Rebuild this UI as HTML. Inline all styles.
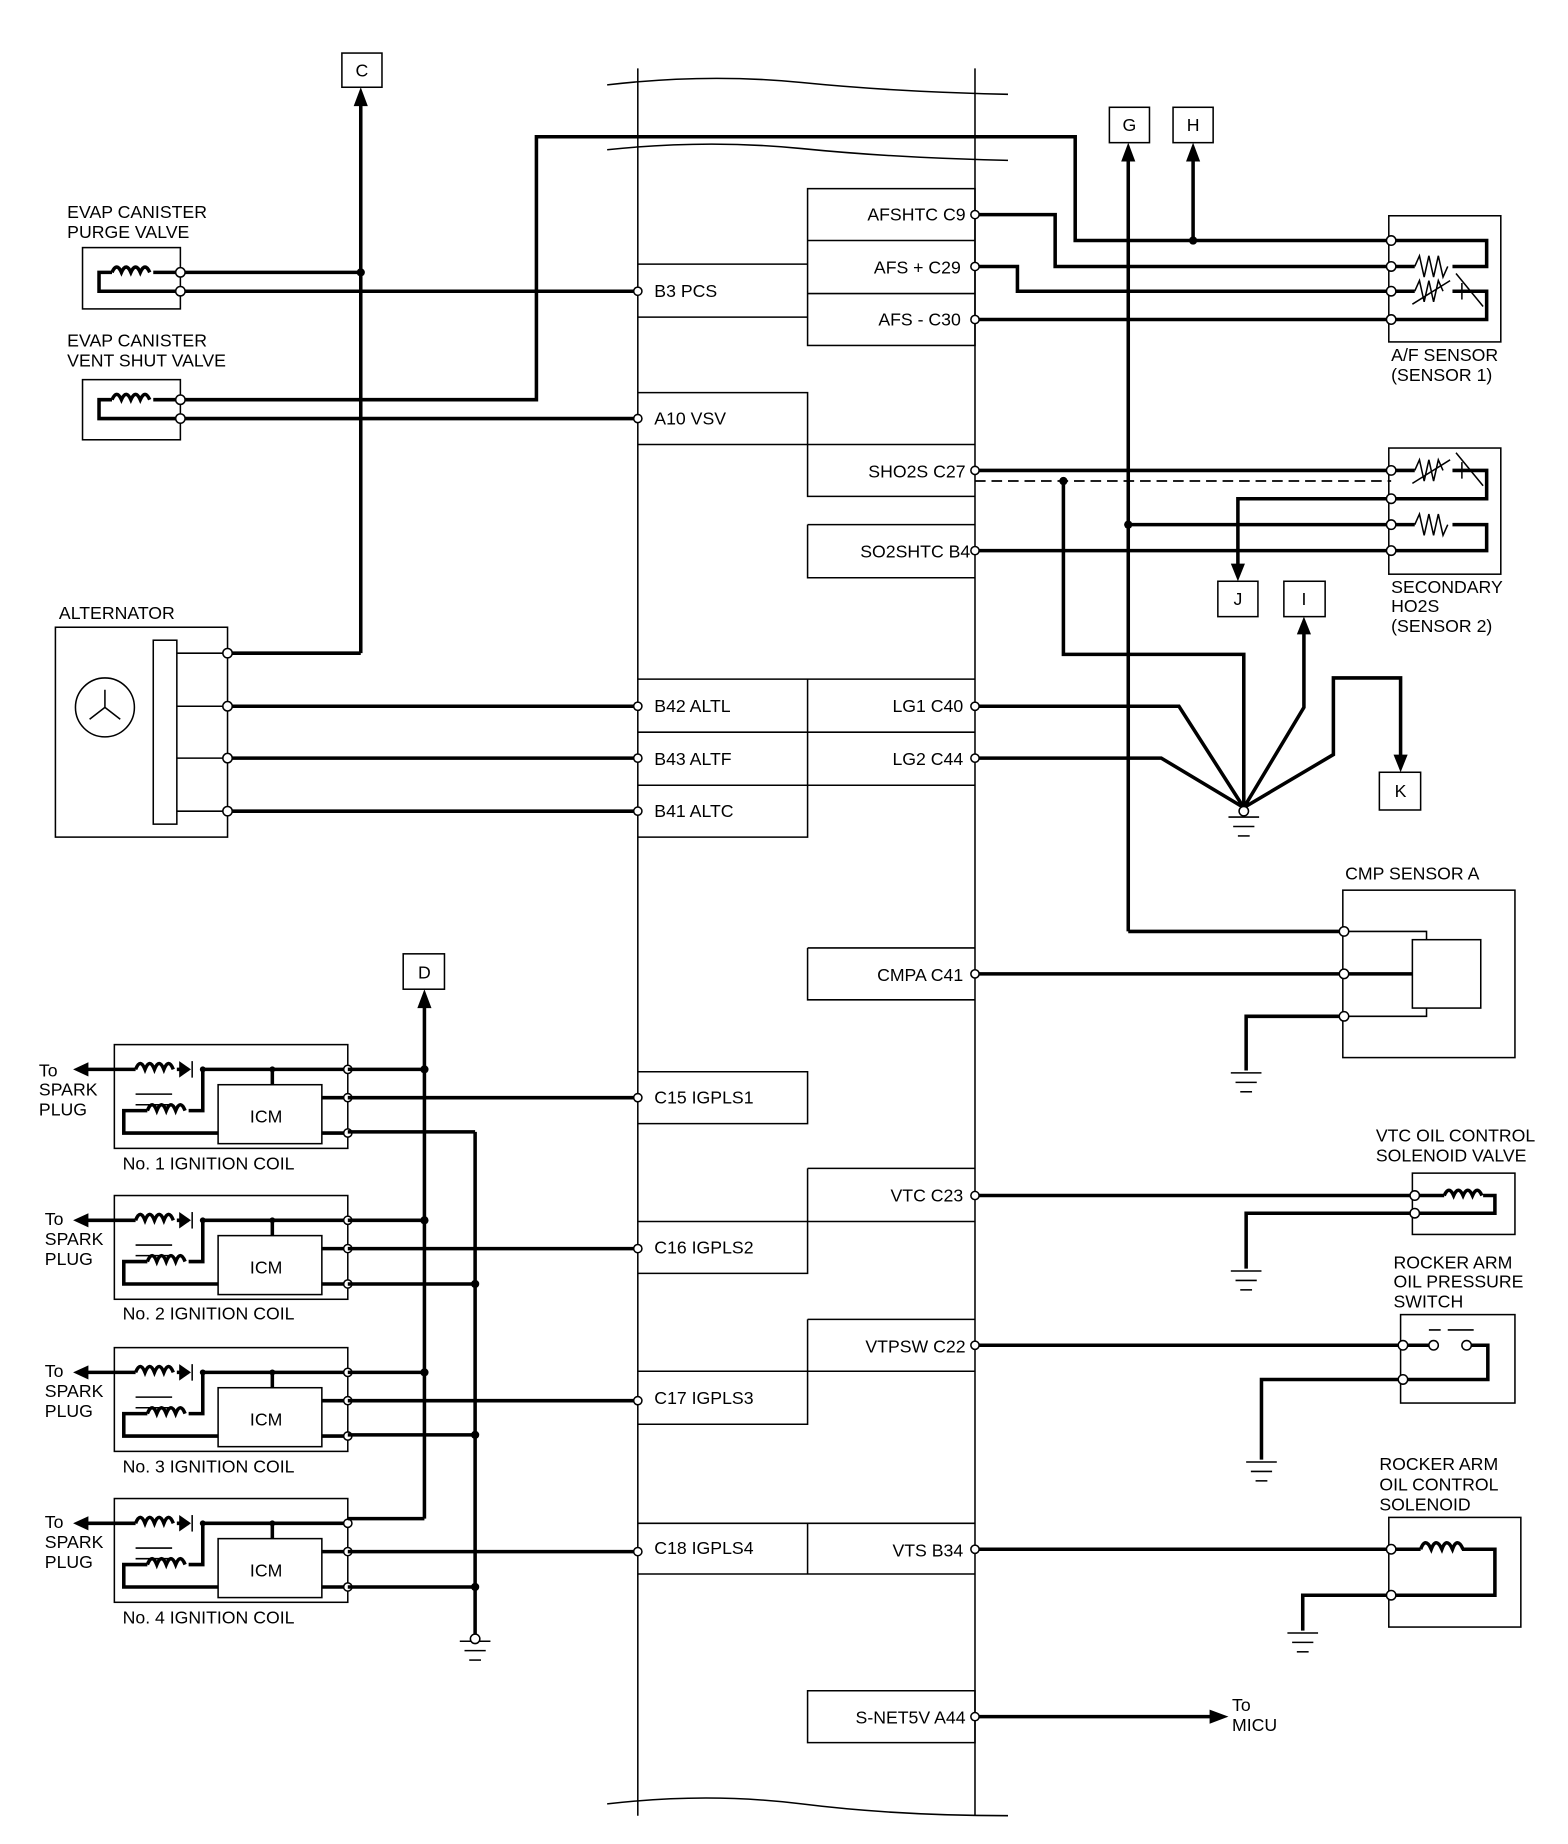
<!DOCTYPE html>
<html><head><meta charset="utf-8"><style>
html,body{margin:0;padding:0;background:#fff}
svg{display:block}
text{font-family:"Liberation Sans",Arial,sans-serif;font-size:15px;fill:#000}
.w{stroke:#000;stroke-width:3;fill:none}
.t{stroke:#000;stroke-width:1.3;fill:none}
.p{fill:#fff;stroke:#000;stroke-width:1.3}
.j{fill:#000}
</style></head><body>
<svg width="1568" height="1844" viewBox="0 0 1330 1564" preserveAspectRatio="none">
<defs>
<g id="gnd"><line x1="-13" y1="0" x2="13" y2="0" class="t" stroke-width="2"/><line x1="-9" y1="8" x2="9" y2="8" class="t"/><line x1="-5" y1="16" x2="5" y2="16" class="t"/></g>
<g id="coil">
<rect x="97" y="886" width="198" height="88" class="t" stroke-width="2"/>
<rect x="185" y="920" width="88" height="50" class="t" stroke-width="2"/>
<text x="212" y="952">ICM</text>
<path class="w" d="M295 907 H172 M160 907 H150 M115 907 H70"/>
<path class="w" d="M115 907 q4 -10 8 0 q4 -10 8 0 q4 -10 8 0 q4 -10 8 0"/>
<path d="M152 900 L162 907 L152 914Z" class="j"/><line x1="163" y1="900" x2="163" y2="914" class="t" stroke-width="2"/>
<path d="M62 907 L75 901 L75 913Z" class="j"/>
<path class="w" d="M172 907 V942 H160 M125 942 H105 V961 H185 M231 907 V920 M273 931 H295 M273 961 H295"/>
<path class="w" d="M125 942 q4 -10 8 0 q4 -10 8 0 q4 -10 8 0 q4 -10 8 0"/>
<line x1="115" y1="928" x2="146" y2="928" class="t" stroke-width="2"/><line x1="115" y1="937" x2="146" y2="937" class="t" stroke-width="2"/>
<circle cx="231" cy="907" r="2.5" class="j"/><circle cx="172" cy="907" r="2.5" class="j"/>
<circle cx="295" cy="907" r="3.5" class="p"/><circle cx="295" cy="931" r="3.5" class="p"/><circle cx="295" cy="961" r="3.5" class="p"/>
</g>
</defs>
<!-- ECM band -->
<path class="t" d="M541 58 V1540 M827 58 V1540"/>
<path class="t" d="M515 72 Q600 62 680 70 T855 80 M515 127 Q600 118 680 126 T855 136 M515 1530 Q600 1520 680 1530 T855 1540"/>
<!-- boxes -->
<g class="t">
<rect x="685" y="160" width="142" height="133"/><line x1="685" y1="204" x2="827" y2="204"/><line x1="685" y1="249" x2="827" y2="249"/>
<path d="M541 224 H685 M541 269 H685"/>
<path d="M541 333 H685 V377 H541 M685 377 H827 M685 377 V421 H827"/>
<path d="M685 445 H827 M685 445 V490 H827"/>
<path d="M541 576 H827 M541 621 H827 M541 666 H827 M685 576 V710 H541"/>
<path d="M685 804 H827 M685 804 V848 H827"/>
<path d="M541 909 H685 V953 H541"/>
<path d="M685 991 H827 M685 991 V1080 H541 M541 1036 H827"/>
<path d="M685 1119 H827 M685 1119 V1208 H541 M541 1163 H827"/>
<path d="M541 1292 H827 M685 1292 V1335 H541 M685 1335 H827"/>
<path d="M685 1434 H827 V1478 H685Z"/>
</g>
<g font-size="15">
<text x="555" y="252">B3 PCS</text><text x="555" y="360">A10 VSV</text>
<text x="555" y="604">B42 ALTL</text><text x="555" y="649">B43 ALTF</text><text x="555" y="693">B41 ALTC</text>
<text x="555" y="936">C15 IGPLS1</text><text x="555" y="1063">C16 IGPLS2</text><text x="555" y="1191">C17 IGPLS3</text><text x="555" y="1318">C18 IGPLS4</text>
</g>
<g text-anchor="end">
<text x="819" y="187">AFSHTC C9</text><text x="815" y="232">AFS +  C29</text><text x="815" y="276">AFS -  C30</text>
<text x="819" y="405">SHO2S C27</text><text x="823" y="473">SO2SHTC B4</text>
<text x="817" y="604">LG1 C40</text><text x="817" y="649">LG2 C44</text><text x="817" y="832">CMPA C41</text>
<text x="817" y="1019">VTC C23</text><text x="819" y="1147">VTPSW C22</text><text x="817" y="1320">VTS B34</text><text x="819" y="1462">S-NET5V A44</text>
</g>
<!-- label boxes -->
<g class="t" stroke-width="1.6">
<rect x="290" y="45" width="34" height="29"/><rect x="941" y="91" width="34" height="30"/><rect x="995" y="91" width="34" height="30"/>
<rect x="1033" y="493" width="34" height="30"/><rect x="1089" y="493" width="35" height="30"/><rect x="1170" y="655" width="35" height="32"/>
<rect x="342" y="809" width="35" height="30"/>
</g>
<g text-anchor="middle"><text x="307" y="65">C</text><text x="958" y="111">G</text><text x="1012" y="111">H</text><text x="1050" y="513">J</text><text x="1106" y="513">I</text><text x="1188" y="676">K</text><text x="360" y="830">D</text></g>
<!-- wires -->
<g class="w">
<path d="M306 554 V82"/><path d="M153 231 H306 M153 247 H541"/>
<path d="M153 339 H455 V116 H912 V204 H1180"/><path d="M153 355 H541"/>
<path d="M827 182 H895 V226 H1180"/><path d="M827 226 H863 V247 H1180"/><path d="M827 271 H1180"/>
<path d="M1012 204 V128"/><path d="M957 790 V128"/><path d="M957 790 H1140"/>
<path d="M827 399 H1180"/><path d="M902 408 V555 H1055 V685"/>
<path d="M827 467 H1180"/><path d="M957 445 H1180"/><path d="M1180 423 H1050 V483"/>
<path d="M1106 530 V600 L1055 685 L1131 640 V575 H1188 V645"/>
<path d="M827 599 H1000 L1055 685 M827 643 H985 L1055 685"/>
<path d="M827 826 H1198 M1140 862 H1057 V908"/>
<path d="M193 554 H306 M193 599 H541 M193 643 H541 M193 688 H541"/>
<path d="M360 1288 V846"/><path d="M403 960 V1388"/>
<path d="M827 1014 H1200 M1200 1029 H1057 V1076"/>
<path d="M827 1141 H1190 M1190 1170 H1070 V1238"/>
<path d="M827 1314 H1180 M1180 1353 H1105 V1383"/>
<path d="M827 1456 H1030"/>
</g>
<line x1="827" y1="408" x2="1180" y2="408" stroke="#000" stroke-width="1.5" stroke-dasharray="9,5"/>
<g class="j">
<path d="M306 74 L300 90 L312 90Z"/><path d="M957 121 L951 137 L963 137Z"/><path d="M1012 121 L1006 137 L1018 137Z"/>
<path d="M1050 493 L1044 478 L1056 478Z"/><path d="M1106 523 L1100 538 L1112 538Z"/><path d="M1188 655 L1182 640 L1194 640Z"/>
<path d="M360 839 L354 855 L366 855Z"/><path d="M1042 1456 L1026 1450 L1026 1462Z"/>
<circle cx="306" cy="231" r="3.5"/><circle cx="1012" cy="204" r="3.5"/><circle cx="902" cy="408" r="3.5"/><circle cx="957" cy="445" r="3.5"/>
<circle cx="360" cy="907" r="3.5"/><circle cx="360" cy="1035" r="3.5"/><circle cx="360" cy="1164" r="3.5"/>
<circle cx="403" cy="1089" r="3.5"/><circle cx="403" cy="1217" r="3.5"/><circle cx="403" cy="1346" r="3.5"/>
</g>
<text x="1045" y="1451">To</text><text x="1045" y="1468">MICU</text>
<!-- grounds -->
<use href="#gnd" x="1055" y="693"/><circle cx="1055" cy="688" r="4" class="p"/>
<use href="#gnd" x="1057" y="910"/><use href="#gnd" x="1057" y="1078"/><use href="#gnd" x="1070" y="1240"/><use href="#gnd" x="1105" y="1385"/><use href="#gnd" x="403" y="1392"/>
<circle cx="403" cy="1390" r="4" class="p"/>
<!-- EVAP valves -->
<text x="57" y="185">EVAP CANISTER</text><text x="57" y="202">PURGE VALVE</text>
<rect x="70" y="210" width="83" height="52" class="t" stroke-width="1.6"/>
<path class="w" d="M153 231 H130 M95 231 H84 V247 H153 M95 231 q4 -9 8 0 q4 -9 8 0 q4 -9 8 0 q4 -9 8 0"/>
<circle cx="153" cy="231" r="4" class="p"/><circle cx="153" cy="247" r="4" class="p"/>
<text x="57" y="294">EVAP CANISTER</text><text x="57" y="311">VENT SHUT VALVE</text>
<rect x="70" y="322" width="83" height="51" class="t" stroke-width="1.6"/>
<path class="w" d="M153 339 H130 M95 339 H84 V355 H153 M95 339 q4 -9 8 0 q4 -9 8 0 q4 -9 8 0 q4 -9 8 0"/>
<circle cx="153" cy="339" r="4" class="p"/><circle cx="153" cy="355" r="4" class="p"/>
<!-- alternator -->
<text x="50" y="525">ALTERNATOR</text>
<rect x="47" y="532" width="146" height="178" class="t" stroke-width="1.6"/>
<rect x="130" y="543" width="20" height="156" class="t" stroke-width="1.6"/>
<path class="t" d="M150 554 H193 M150 599 H193 M150 643 H193 M150 688 H193"/>
<circle cx="89" cy="600" r="25" class="t" stroke-width="1.6"/>
<path class="t" d="M89 600 V585 M89 600 L76 610 M89 600 L102 610"/>
<g><circle cx="193" cy="554" r="4" class="p"/><circle cx="193" cy="599" r="4" class="p"/><circle cx="193" cy="643" r="4" class="p"/><circle cx="193" cy="688" r="4" class="p"/></g>
<!-- A/F sensor -->
<rect x="1178" y="183" width="95" height="107" class="t" stroke-width="1.6"/>
<path class="w" d="M1180 204 H1261 V226 H1232 M1200 226 H1180 M1180 247 H1200 M1232 247 H1261 V271 H1180"/>
<path class="t" stroke-width="2" d="M1200 226 l4 -9 l4 18 l4 -18 l4 18 l4 -18 l4 18 l4 -9 M1200 247 l4 -9 l4 18 l4 -18 l4 18 l4 -18 l4 9 M1198 258 L1230 238 M1240 240 V254 M1235 232 L1258 260"/>
<g><circle cx="1180" cy="204" r="4" class="p"/><circle cx="1180" cy="226" r="4" class="p"/><circle cx="1180" cy="247" r="4" class="p"/><circle cx="1180" cy="271" r="4" class="p"/></g>
<text x="1180" y="306">A/F SENSOR</text><text x="1180" y="323">(SENSOR 1)</text>
<!-- HO2S -->
<rect x="1178" y="380" width="95" height="107" class="t" stroke-width="1.6"/>
<path class="w" d="M1180 399 H1200 M1232 399 H1261 V423 H1180 M1180 445 H1200 M1232 445 H1261 V467 H1180"/>
<path class="t" stroke-width="2" d="M1200 399 l4 -9 l4 18 l4 -18 l4 18 l4 -18 l4 9 M1198 410 L1230 390 M1240 392 V406 M1235 384 L1258 412 M1200 445 l4 -9 l4 18 l4 -18 l4 18 l4 -18 l4 18 l4 -9"/>
<g><circle cx="1180" cy="399" r="4" class="p"/><circle cx="1180" cy="423" r="4" class="p"/><circle cx="1180" cy="445" r="4" class="p"/><circle cx="1180" cy="467" r="4" class="p"/></g>
<text x="1180" y="503">SECONDARY</text><text x="1180" y="519">HO2S</text><text x="1180" y="536">(SENSOR 2)</text>
<!-- CMP -->
<text x="1141" y="746">CMP SENSOR A</text>
<rect x="1139" y="755" width="146" height="142" class="t" stroke-width="1.6"/>
<rect x="1198" y="797" width="58" height="58" class="t" stroke-width="1.6"/>
<path class="t" d="M1140 790 H1210 V797 M1140 862 H1210 V855"/>
<g><circle cx="1140" cy="790" r="4" class="p"/><circle cx="1140" cy="826" r="4" class="p"/><circle cx="1140" cy="862" r="4" class="p"/></g>
<!-- VTC -->
<text x="1167" y="968">VTC OIL CONTROL</text><text x="1167" y="985">SOLENOID VALVE</text>
<rect x="1198" y="995" width="87" height="52" class="t" stroke-width="1.6"/>
<path class="w" d="M1200 1014 H1225 M1258 1014 H1268 V1029 H1200 M1225 1014 q4 -9 8 0 q4 -9 8 0 q4 -9 8 0 q4 -9 8 0"/>
<circle cx="1200" cy="1014" r="4" class="p"/><circle cx="1200" cy="1029" r="4" class="p"/>
<!-- rocker switch -->
<text x="1182" y="1076">ROCKER ARM</text><text x="1182" y="1092">OIL PRESSURE</text><text x="1182" y="1109">SWITCH</text>
<rect x="1188" y="1115" width="97" height="75" class="t" stroke-width="1.6"/>
<path class="w" d="M1190 1141 H1212 M1246 1141 H1262 V1170 H1190"/>
<path class="t" stroke-width="2" d="M1212 1128 H1222 M1228 1128 H1250"/>
<circle cx="1216" cy="1141" r="4" class="p"/><circle cx="1244" cy="1141" r="4" class="p"/>
<circle cx="1190" cy="1141" r="4" class="p"/><circle cx="1190" cy="1170" r="4" class="p"/>
<!-- rocker solenoid -->
<text x="1170" y="1247">ROCKER ARM</text><text x="1170" y="1264">OIL CONTROL</text><text x="1170" y="1281">SOLENOID</text>
<rect x="1178" y="1287" width="112" height="93" class="t" stroke-width="1.6"/>
<path class="w" d="M1180 1314 H1205 M1240 1314 H1268 V1353 H1180 M1205 1314 q4 -11 9 0 q4 -11 9 0 q4 -11 9 0 q4 -11 9 0"/>
<circle cx="1180" cy="1314" r="4" class="p"/><circle cx="1180" cy="1353" r="4" class="p"/>
<!-- ignition coils -->
<use href="#coil"/>
<use href="#coil" y="128"/>
<use href="#coil" y="257"/>
<use href="#coil" y="385"/>
<g class="w">
<path d="M295 907 H360 M295 931 H541 M295 960 H403"/>
<path d="M295 1035 H360 M295 1059 H541 M295 1089 H403"/>
<path d="M295 1164 H360 M295 1188 H541 M295 1217 H403"/>
<path d="M295 1288 H360 M295 1316 H541 M295 1346 H403"/>
</g>
<g>
<text x="33" y="913">To</text><text x="33" y="929">SPARK</text><text x="33" y="946">PLUG</text><text x="104" y="992">No. 1 IGNITION COIL</text>
<text x="38" y="1039">To</text><text x="38" y="1056">SPARK</text><text x="38" y="1073">PLUG</text><text x="104" y="1119">No. 2 IGNITION COIL</text>
<text x="38" y="1168">To</text><text x="38" y="1185">SPARK</text><text x="38" y="1202">PLUG</text><text x="104" y="1249">No. 3 IGNITION COIL</text>
<text x="38" y="1296">To</text><text x="38" y="1313">SPARK</text><text x="38" y="1330">PLUG</text><text x="104" y="1377">No. 4 IGNITION COIL</text>
</g>
<!-- ECM pins -->
<g>
<circle cx="541" cy="247" r="3.5" class="p"/><circle cx="541" cy="355" r="3.5" class="p"/>
<circle cx="541" cy="599" r="3.5" class="p"/><circle cx="541" cy="643" r="3.5" class="p"/><circle cx="541" cy="688" r="3.5" class="p"/>
<circle cx="541" cy="931" r="3.5" class="p"/><circle cx="541" cy="1059" r="3.5" class="p"/><circle cx="541" cy="1188" r="3.5" class="p"/><circle cx="541" cy="1316" r="3.5" class="p"/>
<circle cx="827" cy="182" r="3.5" class="p"/><circle cx="827" cy="226" r="3.5" class="p"/><circle cx="827" cy="271" r="3.5" class="p"/>
<circle cx="827" cy="399" r="3.5" class="p"/><circle cx="827" cy="467" r="3.5" class="p"/>
<circle cx="827" cy="599" r="3.5" class="p"/><circle cx="827" cy="643" r="3.5" class="p"/><circle cx="827" cy="826" r="3.5" class="p"/>
<circle cx="827" cy="1014" r="3.5" class="p"/><circle cx="827" cy="1141" r="3.5" class="p"/><circle cx="827" cy="1314" r="3.5" class="p"/><circle cx="827" cy="1456" r="3.5" class="p"/>
</g>
</svg>
</body></html>
